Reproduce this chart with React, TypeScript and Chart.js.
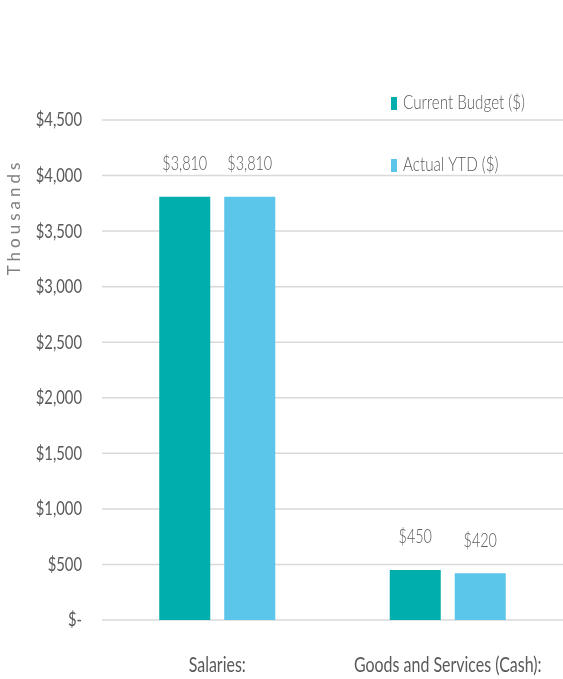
import React, { useEffect, useRef } from "react";
import { Chart, registerables } from "chart.js";

Chart.register(...registerables);

const categories = ["Salaries:", "Goods and Services (Cash):"];
const seriesNames = ["Current Budget ($)", "Actual YTD ($)"];
const currentBudget = [3810, 450];
const actualYTD = [3810, 420];
const seriesColors = ["#00AEAE", "#5BC5EA"];
const yTicks = [0, 500, 1000, 1500, 2000, 2500, 3000, 3500, 4000, 4500];
const yAxisTitle = "Thousands";

const FONT = '"Lato", "Open Sans", sans-serif';
const TEXT = "#595959";
const SQUEEZE = 0.74;

const fmt = (v: number) => (v === 0 ? "$-" : "$" + v.toLocaleString("en-US"));

function drawText(
  ctx: CanvasRenderingContext2D,
  text: string,
  x: number,
  y: number,
  size: number,
  align: CanvasTextAlign,
  color: string,
  sx: number = SQUEEZE,
  weight: number = 400
) {
  ctx.save();
  ctx.translate(x, y);
  ctx.scale(sx, 1);
  ctx.font = `${weight} ${size}px ${FONT}`;
  ctx.fillStyle = color;
  ctx.textAlign = align;
  ctx.textBaseline = "middle";
  ctx.fillText(text, 0, 0);
  ctx.restore();
}

const extras = {
  id: "extras",
  beforeDatasetsDraw(chart: any) {
    const ctx = chart.ctx as CanvasRenderingContext2D;
    const area = chart.chartArea;
    const ys = chart.scales.y;
    ctx.save();
    ctx.strokeStyle = "#d9d9d9";
    ctx.lineWidth = 1.5;
    ys.ticks.forEach((t: any) => {
      const y = ys.getPixelForValue(t.value);
      ctx.beginPath();
      ctx.moveTo(area.left, y);
      ctx.lineTo(chart.width, y);
      ctx.stroke();
    });
    ctx.restore();
  },
  afterDatasetsDraw(chart: any) {
    const ctx = chart.ctx as CanvasRenderingContext2D;
    const area = chart.chartArea;
    const xs = chart.scales.x;
    const ys = chart.scales.y;
    // y tick labels
    ys.ticks.forEach((t: any) => {
      drawText(ctx, fmt(t.value), area.left - 20, ys.getPixelForValue(t.value), 20, "right", TEXT);
    });
    // x tick labels
    categories.forEach((c, i) => {
      drawText(ctx, c, xs.getPixelForValue(i), area.bottom + 45, 21, "center", TEXT, 0.76);
    });
    // data labels
    chart.data.datasets.forEach((ds: any, i: number) => {
      const meta = chart.getDatasetMeta(i);
      meta.data.forEach((bar: any, j: number) => {
        drawText(ctx, fmt(ds.data[j]), bar.x, bar.y - 33, 20, "center", TEXT, 0.72, 300);
      });
    });
    // legend
    const legendX = 391;
    const legendY = [area.top - 17, area.top + 45];
    chart.data.datasets.forEach((ds: any, i: number) => {
      const y = legendY[i];
      ctx.fillStyle = ds.backgroundColor;
      ctx.fillRect(legendX, y - 6, 6, 13);
      drawText(ctx, ds.label, legendX + 12, y, 19, "left", TEXT, 0.8, 300);
    });
    // axis title
    ctx.save();
    ctx.translate(15, area.top + 97);
    ctx.rotate(-Math.PI / 2);
    ctx.fillStyle = "#7f7f7f";
    ctx.textAlign = "center";
    ctx.textBaseline = "middle";
    ctx.font = `17px ${FONT}`;
    (ctx as any).letterSpacing = "4px";
    ctx.fillText(yAxisTitle, 0, 0);
    ctx.restore();
  },
};

export default function App() {
  const ref = useRef<HTMLCanvasElement>(null);
  useEffect(() => {
    if (!ref.current) return;
    const chart = new Chart(ref.current, {
      type: "bar",
      data: {
        labels: categories,
        datasets: [
          { label: seriesNames[0], data: currentBudget, backgroundColor: seriesColors[0] },
          { label: seriesNames[1], data: actualYTD, backgroundColor: seriesColors[1] },
        ],
      },
      options: {
        animation: false,
        responsive: true,
        maintainAspectRatio: false,
        layout: { padding: { top: 120, right: 0, bottom: 0, left: 0 } },
        datasets: { bar: { categoryPercentage: 0.564, barPercentage: 0.785 } },
        plugins: { legend: { display: false }, tooltip: { enabled: false } },
        scales: {
          x: {
            grid: { display: false },
            border: { display: false },
            ticks: { display: false },
            afterFit: (s: any) => {
              s.height = 59;
              s.paddingLeft = 0;
              s.paddingRight = 0;
            },
          },
          y: {
            min: 0,
            max: 4500,
            afterBuildTicks: (s: any) => {
              s.ticks = yTicks.map((v) => ({ value: v }));
            },
            grid: { display: false },
            border: { display: false },
            ticks: { display: false },
            afterFit: (s: any) => {
              s.width = 102;
              s.paddingTop = 0;
              s.paddingBottom = 0;
            },
          },
        },
      },
      plugins: [extras],
    });
    return () => chart.destroy();
  }, []);
  return (
    <div style={{ position: "absolute", left: 0, top: 0, width: 563, height: 679 }}>
      <canvas ref={ref} />
    </div>
  );
}
